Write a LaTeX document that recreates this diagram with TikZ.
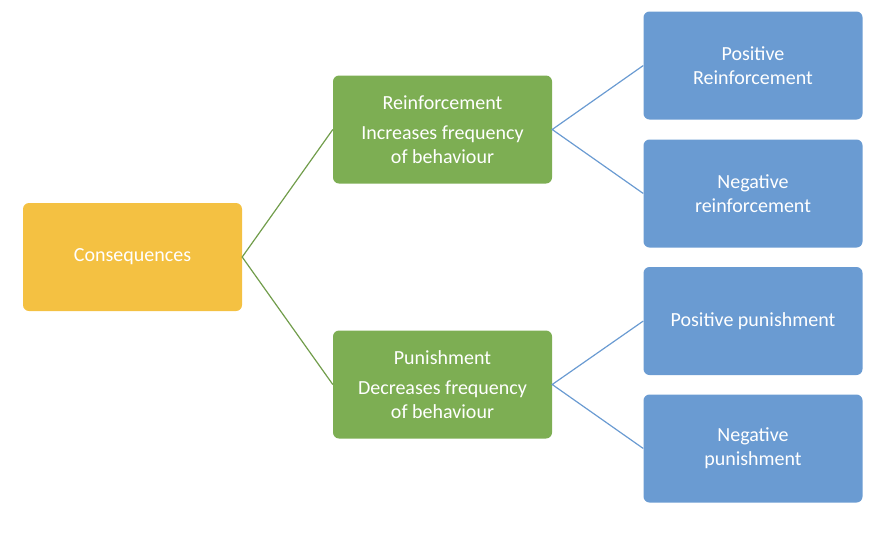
\documentclass[tikz,border=0pt]{standalone}
\usepackage{fontspec}
\setmainfont{Carlito}
\definecolor{consyellow}{HTML}{F4C142}
\definecolor{kindgreen}{HTML}{7DAE53}
\definecolor{typeblue}{HTML}{6A9BD2}
\tikzset{
  box/.style   = {shape=rectangle, rounded corners=6pt, draw=none,
                  minimum width=219pt, minimum height=108pt,
                  align=center, text=white, font=\fontsize{20}{24}\selectfont},
  cons/.style  = {box, fill=consyellow},
  kind/.style  = {box, fill=kindgreen},
  type/.style  = {box, fill=typeblue},
  greenline/.style = {draw=kindgreen!90!black, line width=1.2pt},
  blueline/.style  = {draw=typeblue, line width=1.2pt}
}
\begin{document}
\begin{tikzpicture}[x=1pt,y=1pt]
  \useasboundingbox (0,0) rectangle (886,-552);

  \node[cons] (cons) at (132.5,-257) {Consequences};

  \node[kind] (reinf) at (442.5,-129.5) {Reinforcement\\[6pt]Increases frequency\\of behaviour};
  \node[kind] (punish) at (442.5,-384.5) {Punishment\\[6pt]Decreases frequency\\of behaviour};

  \node[type] (posreinf) at (753,-65.5) {Positive\\Reinforcement};
  \node[type] (negreinf) at (753,-193.5) {Negative\\reinforcement};
  \node[type] (pospun) at (753,-321) {Positive punishment};
  \node[type] (negpun) at (753,-448.5) {Negative\\punishment};

  \draw[greenline] (reinf.west) -- (cons.east) -- (punish.west);
  \draw[blueline] (posreinf.west) -- (reinf.east) -- (negreinf.west);
  \draw[blueline] (pospun.west) -- (punish.east) -- (negpun.west);
\end{tikzpicture}
\end{document}
